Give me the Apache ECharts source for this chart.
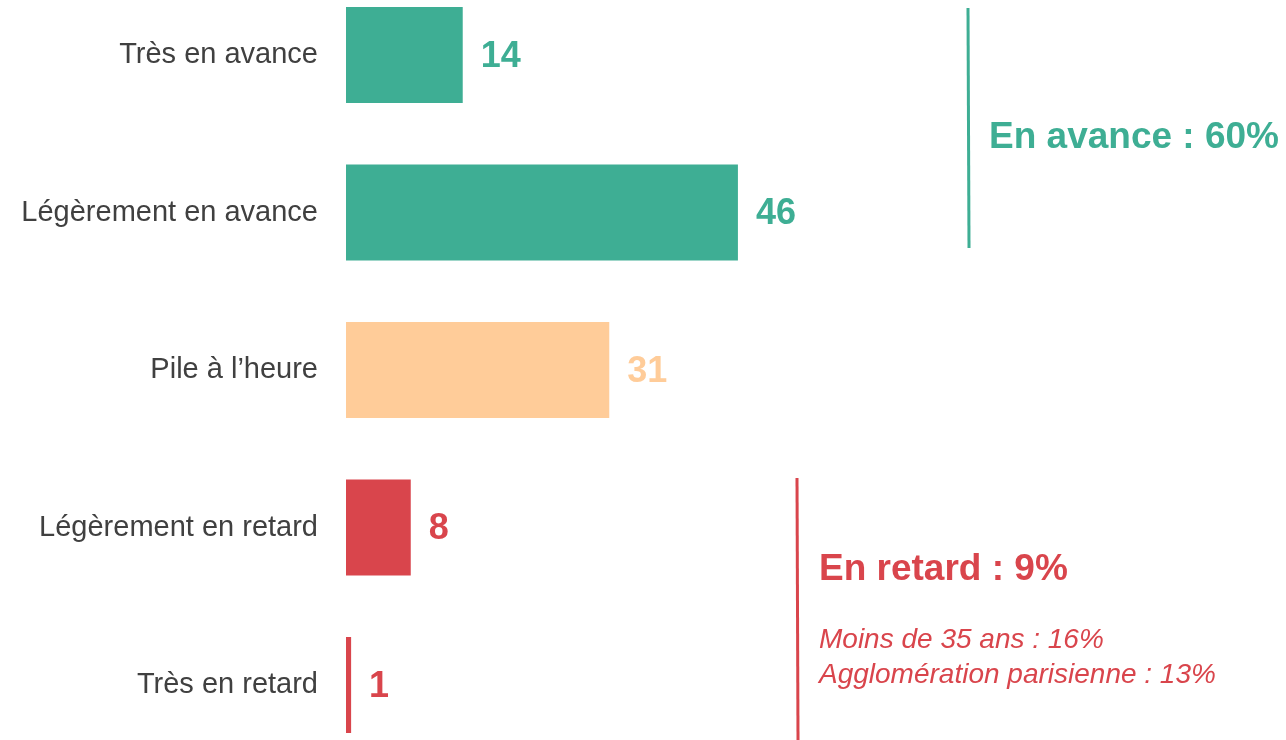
<!DOCTYPE html>
<html>
<head>
<meta charset="utf-8">
<script src="https://cdn.jsdelivr.net/npm/echarts@6/dist/echarts.min.js"></script>
<style>
  html, body { margin: 0; padding: 0; background: #fff; }
  #chart { width: 1286px; height: 740px; }
</style>
</head>
<body>
<div id="chart"></div>
<script>
// categories, top to bottom
const categories = ['Très en avance', 'Légèrement en avance', "Pile à l’heure", 'Légèrement en retard', 'Très en retard'];
// shares in % (labels are rounded)
const values = [13.7, 46, 30.9, 7.6, 0.6];
const barColors = ['#3eae94', '#3eae94', '#ffcc99', '#d9454c', '#d9454c'];

const avanceText = 'En avance : 60%';
const retardText = 'En retard : 9%';
const retardDetails = ['Moins de 35 ans : 16%', 'Agglomération parisienne : 13%'];

const FONT = '"Liberation Sans", Arial, sans-serif';
const GREEN = '#3eae94';
const RED = '#d9454c';

const myChart = echarts.init(document.getElementById('chart'));

const option = {
  animation: false,
  textStyle: { fontFamily: FONT },
  // categories sit on the ticks (boundaryGap false): first at top edge, last at bottom edge
  grid: {
    left: 346,
    right: 88,
    top: 55,
    height: 630,
    containLabel: false
  },
  xAxis: {
    type: 'value',
    min: 0,
    max: 100,
    show: false
  },
  yAxis: {
    type: 'category',
    inverse: true,
    boundaryGap: false,
    data: categories,
    axisLine: { show: false },
    axisTick: { show: false },
    splitLine: { show: false },
    axisLabel: {
      margin: 28,
      fontSize: 29,
      color: '#404040',
      fontFamily: FONT,
      padding: [4, 0, 0, 0]
    }
  },
  series: [{
    type: 'bar',
    barWidth: 96,
    clip: false,
    data: values.map((v, i) => ({
      value: v,
      itemStyle: { color: barColors[i] },
      label: { color: barColors[i] }
    })),
    label: {
      show: true,
      position: 'right',
      distance: 18,
      offset: [0, 2],
      fontSize: 36,
      fontWeight: 'bold',
      fontFamily: FONT,
      formatter: p => Math.round(p.value)
    }
  }],
  graphic: [
    // bracket for "en avance"
    { type: 'line', shape: { x1: 968, y1: 8, x2: 969, y2: 248 }, style: { stroke: GREEN, lineWidth: 3 } },
    {
      type: 'text', left: 989, top: 119,
      style: { text: avanceText, fill: GREEN, font: 'bold 37px ' + FONT }
    },
    // bracket for "en retard"
    { type: 'line', shape: { x1: 797, y1: 478, x2: 798, y2: 740 }, style: { stroke: RED, lineWidth: 3 } },
    {
      type: 'text', left: 819, top: 551,
      style: { text: retardText, fill: RED, font: 'bold 37px ' + FONT }
    },
    {
      type: 'text', left: 819, top: 623,
      style: { text: retardDetails.join('\n'), fill: RED, font: 'italic 28px ' + FONT, lineHeight: 35 }
    }
  ]
};

myChart.setOption(option);
window.addEventListener('resize', () => { myChart.resize(); });
</script>
</body>
</html>
